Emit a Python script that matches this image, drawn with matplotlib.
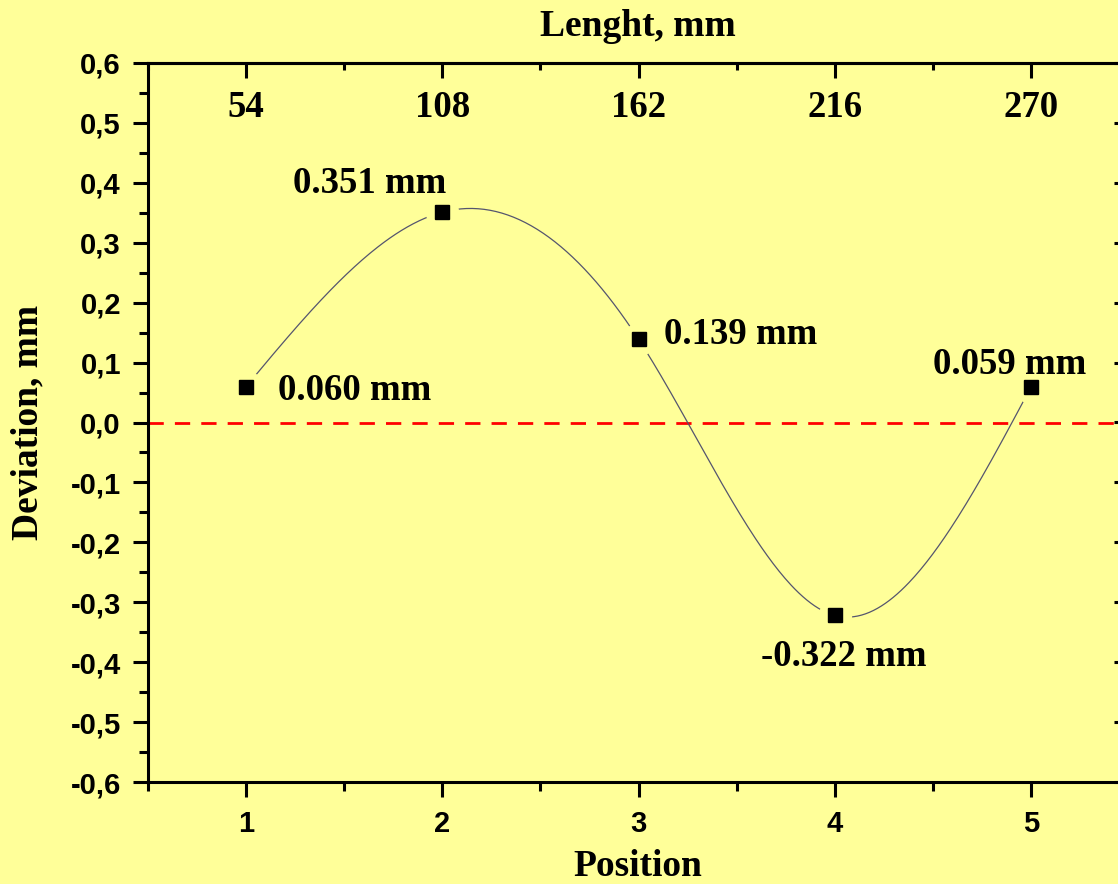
import numpy as np
import matplotlib
matplotlib.use("Agg")
import matplotlib.pyplot as plt
from matplotlib.ticker import MultipleLocator, FixedLocator

# data
positions = [1, 2, 3, 4, 5]
deviation = [0.060, 0.351, 0.139, -0.322, 0.059]
length_ticks = [54, 108, 162, 216, 270]
mm_per_position = 54
y_ticks = [-0.6, -0.5, -0.4, -0.3, -0.2, -0.1, 0.0, 0.1, 0.2, 0.3, 0.4, 0.5, 0.6]

BG = "#FFFF99"
SERIF = "Liberation Serif"
SANS = "Liberation Sans"


def natural_spline(x, y, xs):
    """Natural cubic spline through (x, y), evaluated at xs (smooth connect line)."""
    x = np.asarray(x, float)
    y = np.asarray(y, float)
    n = len(x)
    h = np.diff(x)
    A = np.zeros((n, n))
    r = np.zeros(n)
    A[0, 0] = A[-1, -1] = 1.0
    for i in range(1, n - 1):
        A[i, i - 1] = h[i - 1]
        A[i, i] = 2 * (h[i - 1] + h[i])
        A[i, i + 1] = h[i]
        r[i] = 3 * ((y[i + 1] - y[i]) / h[i] - (y[i] - y[i - 1]) / h[i - 1])
    c = np.linalg.solve(A, r)
    b = (y[1:] - y[:-1]) / h - h * (2 * c[:-1] + c[1:]) / 3
    d = (c[1:] - c[:-1]) / (3 * h)
    idx = np.clip(np.searchsorted(x, xs) - 1, 0, n - 2)
    t = xs - x[idx]
    return y[idx] + b[idx] * t + c[idx] * t ** 2 + d[idx] * t ** 3


W, H = 1118, 884
fig = plt.figure(figsize=(W / 100, H / 100), dpi=100, facecolor=BG)
# right spine sits just outside the picture, like the reference crop
ax = fig.add_axes([148 / W, 1 - 782 / H, (1129 - 148) / W, (782 - 63) / H])
ax.set_facecolor(BG)

xs = np.linspace(positions[0], positions[-1], 400)
ax.plot(xs, natural_spline(positions, deviation, xs), color="#55556e", lw=0.9, zorder=2)
# Origin-style gap around the symbols
ax.plot(positions, deviation, "o", ms=24, color=BG, mec="none", zorder=3)
ax.plot(positions, deviation, "s", ms=9.5, color="black", zorder=4)
ax.axhline(0, color="red", lw=2, ls=(0, (5.5, 4)), zorder=1.5)

# value labels
offsets = [(23, -10, "left"), (-52.5, 13.5, "center"), (18, -3.6, "left"),
           (6.5, -36.7, "center"), (-15, 9.4, "center")]
for x, y, (dx, dy, ha) in zip(positions, deviation, offsets):
    ax.annotate(f"{y:.3f} mm", xy=(x, y), xytext=(dx, dy), textcoords="offset points",
                ha=ha, va="baseline", fontsize=26.5, fontweight="bold", family=SERIF,
                zorder=5)

ax.set_xlim(0.5, 5.5)
ax.set_ylim(-0.6, 0.6)

ax.xaxis.set_major_locator(FixedLocator(positions))
ax.xaxis.set_minor_locator(MultipleLocator(0.5))
ax.yaxis.set_major_locator(FixedLocator(y_ticks))
ax.yaxis.set_minor_locator(MultipleLocator(0.05))
ax.set_yticklabels([f"{v:.1f}".replace(".", ",").replace("-0,0", "0,0") for v in y_ticks])

for s in ax.spines.values():
    s.set_linewidth(2.2)

ax.tick_params(which="both", direction="out", width=2.2, top=False, right=False)
ax.tick_params(which="major", length=11)
ax.tick_params(which="minor", length=6.5)
ax.tick_params(axis="x", pad=9)
ax.tick_params(axis="y", pad=8.5)
for lbl in ax.get_xticklabels() + ax.get_yticklabels():
    lbl.set_fontfamily(SANS)
    lbl.set_fontweight("bold")
    lbl.set_fontsize(21)

# top axis: length in mm
top = ax.secondary_xaxis("top", functions=(lambda p: p * mm_per_position,
                                           lambda l: l / mm_per_position))
top.xaxis.set_major_locator(FixedLocator(length_ticks))
top.xaxis.set_minor_locator(MultipleLocator(mm_per_position / 2))
top.spines["top"].set_linewidth(2.2)
top.tick_params(which="both", direction="in", width=2.2)
top.tick_params(which="major", length=11, pad=-45)
top.tick_params(which="minor", length=5)
for lbl in top.get_xticklabels():
    lbl.set_fontfamily(SERIF)
    lbl.set_fontweight("bold")
    lbl.set_fontsize(26.5)

# right axis: inward ticks, no labels
right = ax.secondary_yaxis("right")
right.yaxis.set_major_locator(FixedLocator(y_ticks))
right.yaxis.set_minor_locator(MultipleLocator(0.05))
right.spines["right"].set_linewidth(2.2)
right.tick_params(which="both", direction="in", width=2.2, labelright=False)
right.tick_params(which="major", length=11)
right.tick_params(which="minor", length=6.5)

title_kw = dict(fontsize=27, fontweight="bold", family=SERIF)
fig.text(638 / W, 1 - 36 / H, "Lenght, mm", ha="center", va="baseline", **title_kw)
fig.text(638 / W, 1 - 876 / H, "Position", ha="center", va="baseline", **title_kw)
fig.text(28 / W, 1 - 422 / H, "Deviation, mm", ha="center", va="center",
         rotation=90, **title_kw)

fig.savefig("out.png", dpi=100, facecolor=BG)
